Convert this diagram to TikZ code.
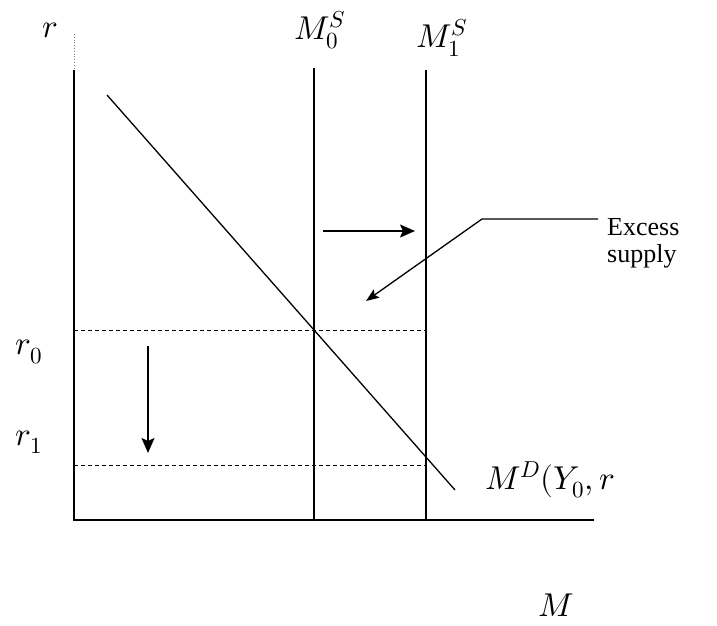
\documentclass[tikz,border=0pt]{standalone}
\usepackage{fontspec}
\usepackage{unicode-math}
\setmainfont{Liberation Serif}
\setmathfont{Latin Modern Math}
\usetikzlibrary{arrows.meta}
\begin{document}
\begin{tikzpicture}[x=1pt,y=-1pt,
  axis/.style={line width=1.4pt},
  curve/.style={line width=1.3pt},
  guide/.style={line width=0.9pt,dash pattern=on 4pt off 3pt},
  shift arrow/.style={line width=1.6pt,-{Stealth[length=15pt,width=13pt,inset=3pt]}},
  lbl/.style={inner sep=0pt,font=\fontsize{33}{36}\selectfont},
  txt/.style={inner sep=0pt,font=\fontsize{26}{30}\selectfont,align=left}]
\useasboundingbox (0,0) rectangle (717,626);
% axes
\coordinate (ytop) at (74,34);
\coordinate (ysol) at (74,70);
\coordinate (org) at (74,520);
\coordinate (xend) at (594,520);
\draw[line width=0.8pt,gray,dotted] (ytop) -- (ysol);
\draw[axis] (ysol) -- (org) -- (xend);
% money supply
\coordinate (s0t) at (314,68);
\coordinate (s0b) at (314,520);
\coordinate (s1t) at (426,70);
\coordinate (s1b) at (426,520);
\draw[curve] (s0t) -- (s0b);
\draw[curve] (s1t) -- (s1b);
% money demand
\coordinate (d0) at (107,95);
\coordinate (d1) at (455,490);
\draw[curve] (d0) -- (d1);
% dashed guides
\coordinate (g0a) at (74,330);
\coordinate (g0b) at (426,330);
\coordinate (g1a) at (74,465);
\coordinate (g1b) at (426,465);
\draw[guide] (g0a) -- (g0b);
\draw[guide] (g1a) -- (g1b);
% shift arrows
\coordinate (ra) at (323,231);
\coordinate (rb) at (415,231);
\draw[shift arrow] (ra) -- (rb);
\coordinate (da) at (148,346);
\coordinate (db) at (148,453);
\draw[shift arrow] (da) -- (db);
% callout
\coordinate (c0) at (598,219);
\coordinate (c1) at (482,219);
\coordinate (c2) at (366,301);
\draw[line width=1.3pt,-{Stealth[length=13pt,width=10pt,inset=2.5pt]}] (c0) -- (c1) -- (c2);
\node[txt,anchor=west] (ex) at (607,243) {Excess\\[-3pt]supply};
% labels
\node[lbl] (rlab) at (50,30) {$r$};
\node[lbl] (m0s) at (320,30) {$M_0^S$};
\node[lbl] (m1s) at (442,38) {$M_1^S$};
\node[lbl] (r0) at (29,352) {$r_0$};
\node[lbl] (r1) at (29,442) {$r_1$};
\node[lbl] (mlab) at (556,605) {$M$};
\begin{scope}
\clip (480,450) rectangle (615,505);
\node[lbl,anchor=west] (md) at (485,480) {$M^D(Y_0,r)$};
\end{scope}
\end{tikzpicture}
\end{document}
